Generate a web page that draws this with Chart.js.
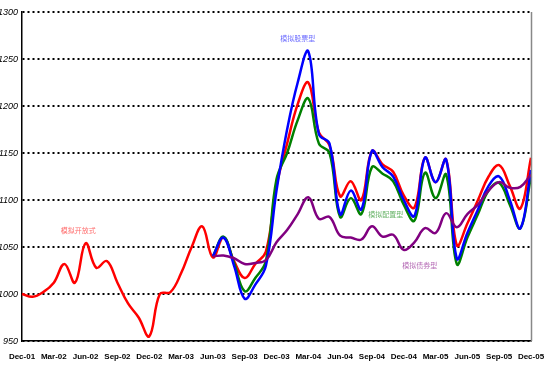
<!DOCTYPE html>
<html>
<head>
<meta charset="utf-8">
<script src="https://cdn.jsdelivr.net/npm/chart.js@4/dist/chart.umd.min.js"></script>
<style>
  body { margin: 0; background: #fff; }
  #wrap { width: 551px; height: 372px; }
</style>
</head>
<body>
<div id="wrap"><canvas id="fundChart"></canvas></div>
<script>
// months Dec-01 .. Dec-05
const months = [
  'Dec-01', 'Jan-02', 'Feb-02', 'Mar-02', 'Apr-02', 'May-02', 'Jun-02', 'Jul-02', 'Aug-02', 'Sep-02', 'Oct-02', 'Nov-02',
  'Dec-02', 'Jan-03', 'Feb-03', 'Mar-03', 'Apr-03', 'May-03', 'Jun-03', 'Jul-03', 'Aug-03', 'Sep-03', 'Oct-03', 'Nov-03',
  'Dec-03', 'Jan-04', 'Feb-04', 'Mar-04', 'Apr-04', 'May-04', 'Jun-04', 'Jul-04', 'Aug-04', 'Sep-04', 'Oct-04', 'Nov-04',
  'Dec-04', 'Jan-05', 'Feb-05', 'Mar-05', 'Apr-05', 'May-05', 'Jun-05', 'Jul-05', 'Aug-05', 'Sep-05', 'Oct-05', 'Nov-05',
  'Dec-05'
];

const seriesNames = ['模拟开放式', '模拟股票型', '模拟配置型', '模拟债券型'];

const openFund = [
  1000, 997, 1002, 1012, 1032, 1012, 1054, 1028, 1035, 1012, 990, 975,
  955, 1000, 1002, 1022, 1050, 1072, 1039, 1060, 1035, 1017, 1032, 1045,
  1115, 1160, 1202, 1225, 1172, 1158, 1104, 1120, 1100, 1152, 1138, 1130,
  1105, 1092, 1145, 1119, 1143, 1052, 1075, 1100, 1125, 1137, 1115, 1091,
  1145
];
const stockFund = [
  null, null, null, null, null, null, null, null, null, null, null, null,
  null, null, null, null, null, null, 1040, 1060, 1030, 995, 1010, 1030,
  1110, 1175, 1225, 1258, 1170, 1160, 1085, 1110, 1090, 1152, 1135, 1125,
  1100, 1083, 1145, 1119, 1143, 1038, 1065, 1090, 1115, 1125, 1100, 1070,
  1132
];
const mixedFund = [
  null, null, null, null, null, null, null, null, null, null, null, null,
  null, null, null, null, null, null, 1040, 1061, 1033, 1003, 1017, 1035,
  1122, 1150, 1185, 1208, 1160, 1150, 1082, 1102, 1085, 1135, 1128, 1120,
  1095, 1078, 1129, 1102, 1127, 1032, 1060, 1085, 1110, 1118, 1095, 1070,
  1125
];
const bondFund = [
  null, null, null, null, null, null, null, null, null, null, null, null,
  null, null, null, null, null, null, 1040, 1041, 1038, 1032, 1033, 1036,
  1055, 1068, 1085, 1103, 1080, 1082, 1062, 1060, 1058, 1072, 1061, 1063,
  1047, 1055, 1070, 1065, 1086, 1071, 1085, 1095, 1110, 1119, 1113, 1114,
  1127
];

const yTicks = [950, 1000, 1050, 1100, 1150, 1200, 1250, 1300];

// where each series name sits (category index, value)
const noteAt = [[5.3, 1068], [26.0, 1272], [34.3, 1085], [37.5, 1030]];
const colors = ['#ff0000', '#0000ff', '#008000', '#800080'];

const seriesNotes = {
  id: 'seriesNotes',
  afterDatasetsDraw(chart) {
    const { ctx, scales: { x, y } } = chart;
    ctx.save();
    ctx.font = '7px "Noto Sans CJK SC"';
    ctx.textAlign = 'center';
    ctx.textBaseline = 'middle';
    noteAt.forEach((p, i) => {
      ctx.fillStyle = colors[i];
      ctx.globalAlpha = 0.6;
      ctx.fillText(seriesNames[i], x.getPixelForValue(p[0]), y.getPixelForValue(p[1]));
    });
    // grey right edge of the plot
    ctx.globalAlpha = 1;
    ctx.strokeStyle = '#888';
    ctx.lineWidth = 1.5;
    ctx.beginPath();
    ctx.moveTo(chart.chartArea.right + 0.5, chart.chartArea.top);
    ctx.lineTo(chart.chartArea.right + 0.5, chart.chartArea.bottom);
    ctx.stroke();
    ctx.restore();
  }
};

function line(label, data, color) {
  return {
    label: label,
    data: data,
    borderColor: color,
    backgroundColor: color,
    borderWidth: 2.5,
    pointRadius: 0,
    tension: 0.4,
    fill: false
  };
}

const fundChart = new Chart(document.getElementById('fundChart'), {
  type: 'line',
  data: {
    labels: months,
    datasets: [
      line(seriesNames[3], bondFund, colors[3]),
      line(seriesNames[1], stockFund, colors[1]),
      line(seriesNames[2], mixedFund, colors[2]),
      line(seriesNames[0], openFund, colors[0])
    ]
  },
  options: {
    responsive: true,
    maintainAspectRatio: false,
    animation: false,
    layout: { padding: { top: 12, right: 20, left: 0, bottom: 0 } },
    plugins: {
      legend: { display: false },
      tooltip: { enabled: false }
    },
    scales: {
      x: {
        offset: false,
        grid: { display: false },
        border: { display: true, color: '#000', width: 1.5 },
        afterFit(scale) { scale.height = 31; },
        ticks: {
          autoSkip: false,
          maxRotation: 0,
          padding: 3,
          color: '#000',
          font: { family: 'Liberation Sans, Arial', size: 8, weight: 'bold' },
          callback: (v, i) => (i % 3 === 0 ? months[i] : '')
        }
      },
      y: {
        min: 950,
        max: 1300,
        afterFit(scale) { scale.width = 22; },
        afterBuildTicks(scale) { scale.ticks = yTicks.map(v => ({ value: v })); },
        grid: {
          color: '#000',
          lineWidth: 2,
          drawTicks: false
        },
        border: { display: true, color: '#000', width: 1.5, dash: [2, 3] },
        ticks: {
          padding: 4,
          color: '#000',
          font: { family: 'Liberation Sans, Arial', size: 9, style: 'italic' },
          callback: v => String(v)
        }
      }
    }
  },
  plugins: [seriesNotes]
});
</script>
</body>
</html>
